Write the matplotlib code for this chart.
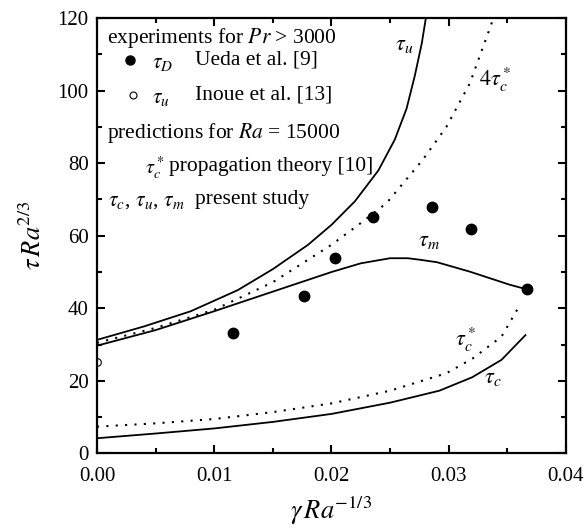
import matplotlib
matplotlib.use('Agg')
import matplotlib.pyplot as plt
from matplotlib.ticker import MultipleLocator, FormatStrFormatter

plt.rcParams['font.family'] = ['Liberation Serif', 'DejaVu Serif']
plt.rcParams['mathtext.fontset'] = 'stix'

# experiments (Ueda et al., tau_D) and Inoue et al. (tau_u)
ueda_x = [0.01161, 0.01769, 0.02027, 0.02353, 0.02856, 0.03192, 0.03669]
ueda_y = [33.3, 43.4, 54.0, 65.2, 68.0, 61.8, 45.2]
inoue_x = [0.0]
inoue_y = [25.3]

# present study: tau_u
tu_x = [0.0, 0.004, 0.008, 0.012, 0.015, 0.018, 0.020, 0.022, 0.024,
        0.0254, 0.0264, 0.0271, 0.0277, 0.0281]
tu_y = [31.3, 35.0, 39.2, 45.0, 50.8, 57.5, 63.0, 69.5, 78.0,
        86.5, 95.0, 104.0, 113.0, 121.0]
# present study: tau_m
tm_x = [0.0, 0.005, 0.01, 0.015, 0.02, 0.0225, 0.025, 0.0265, 0.0275,
        0.029, 0.0318, 0.0352, 0.0367]
tm_y = [29.7, 34.0, 39.2, 44.6, 50.0, 52.4, 53.8, 53.8, 53.4,
        52.7, 50.1, 46.5, 45.2]
# present study: tau_c
tc_x = [0.0, 0.005, 0.01, 0.015, 0.02, 0.025, 0.0292, 0.032, 0.0345, 0.03654]
tc_y = [4.2, 5.5, 6.9, 8.7, 10.9, 14.0, 17.3, 21.0, 25.8, 32.6]
# propagation theory: tau_c*
tcs_x = [0.0, 0.005, 0.01, 0.015, 0.02, 0.025, 0.0298, 0.03205, 0.0345, 0.03594]
tcs_y = [7.4, 8.3, 9.5, 11.4, 13.8, 17.3, 22.1, 26.2, 32.2, 40.2]
# 4 tau_c*
t4_x = [0.0, 0.005, 0.01, 0.015, 0.02, 0.0225, 0.0247, 0.0278, 0.0298,
        0.0318, 0.0336, 0.0342]
t4_y = [30.5, 34.6, 39.6, 47.2, 57.5, 63.5, 69.0, 81.0, 90.0,
        102.0, 118.0, 124.0]

fig = plt.figure(figsize=(5.85, 5.32), dpi=100)
ax = fig.add_axes([0.1658, 0.1476, 0.8017, 0.8186])

ax.plot(tu_x, tu_y, color='black', lw=1.3)
ax.plot(tm_x, tm_y, color='black', lw=1.3)
ax.plot(tc_x, tc_y, color='black', lw=1.3)
ax.plot(tcs_x, tcs_y, color='black', lw=1.5, linestyle=(0, (1, 3.5)))
ax.plot(t4_x, t4_y, color='black', lw=1.5, linestyle=(0, (1, 3.5)))
ax.plot(ueda_x, ueda_y, 'o', color='black', ms=7.5)
ax.plot(inoue_x, inoue_y, 'o', mfc='white', mec='black', ms=5.5, mew=0.8)

ax.set_xlim(0, 0.04)
ax.set_ylim(0, 120)
ax.xaxis.set_major_locator(MultipleLocator(0.01))
ax.xaxis.set_minor_locator(MultipleLocator(0.005))
ax.xaxis.set_major_formatter(FormatStrFormatter('%.2f'))
ax.yaxis.set_major_locator(MultipleLocator(20))
ax.yaxis.set_minor_locator(MultipleLocator(10))
ax.tick_params(which='both', direction='in', top=True, right=True,
               width=1.5, labelsize=15)
ax.tick_params(which='major', length=6, pad=6)
ax.tick_params(axis='x', which='major', pad=10)
ax.tick_params(which='minor', length=3.5)
for s in ax.spines.values():
    s.set_linewidth(1.6)

ax.set_xlabel(r'$\gamma\,Ra^{-1/3}$', fontsize=19, labelpad=6)
ax.set_ylabel(r'$\tau\,Ra^{2/3}$', fontsize=19, labelpad=8)

# curve labels
ax.text(0.02624, 112.5, r'$\tau_u$', fontsize=16, ha='center', va='center')
ax.text(0.03262, 102.9, r'$4\tau_c^*$', fontsize=16, ha='left', va='center')
ax.text(0.02836, 58.3, r'$\tau_m$', fontsize=16, ha='center', va='center')
ax.text(0.03148, 31.3, r'$\tau_c^*$', fontsize=16, ha='center', va='center')
ax.text(0.03376, 20.7, r'$\tau_c$', fontsize=16, ha='center', va='center')

# legend block written as text
fs = 15.5
ax.text(0.00083, 114.5, r'experiments for $Pr$ > 3000', fontsize=fs, va='center')
ax.plot([0.00282], [108.3], 'o', color='black', ms=6.5)
ax.text(0.0047, 107.5, r'$\tau_D$', fontsize=fs, va='center')
ax.text(0.00835, 108.5, 'Ueda et al. [9]', fontsize=fs, va='center')
ax.plot([0.00305], [98.7], 'o', mfc='white', mec='black', ms=5, mew=0.8)
ax.text(0.0047, 97.7, r'$\tau_u$', fontsize=fs, va='center')
ax.text(0.00835, 98.7, 'Inoue et al. [13]', fontsize=fs, va='center')
ax.text(0.00083, 88.2, r'predictions for $Ra$ = 15000', fontsize=fs, va='center')
ax.text(0.0041, 78.5, r'$\tau_c^*$', fontsize=fs - 1, va='center')
ax.text(0.0061, 79.0, 'propagation theory [10]', fontsize=fs, va='center')
ax.text(0.0009, 69.5, r'$\tau_c$, $\tau_u$, $\tau_m$', fontsize=fs, va='center')
ax.text(0.00835, 70.0, 'present study', fontsize=fs, va='center')

fig.savefig('out.png', dpi=100)
